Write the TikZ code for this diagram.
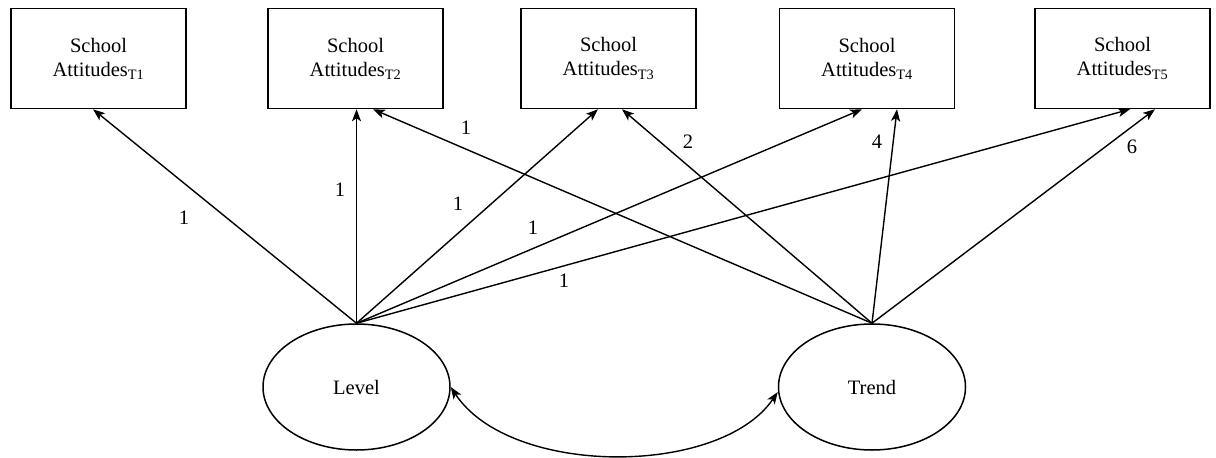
\documentclass[tikz,border=0pt]{standalone}
\usepackage{fontspec}
\setmainfont{Liberation Serif}
\usetikzlibrary{shapes.geometric,arrows.meta}
\begin{document}
\begin{tikzpicture}[x=1pt,y=-1pt,line width=1.4pt,every node/.style={font=\fontsize{20.5}{24}\selectfont,inner sep=1pt},
  box/.style={draw,line width=1.5pt,minimum width=175pt,minimum height=100pt,align=center},
  latent/.style={draw,ellipse,line width=1.5pt,minimum width=187pt,minimum height=126pt},
  loading/.style={-{Stealth[length=12pt,width=9pt,inset=3pt]}}]
\useasboundingbox (0,0) rectangle (1216,458);
\node[box] (sa1) at (98.5,58.5) {School\\Attitudes\textsubscript{T1}};
\node[box] (sa2) at (355.5,58.5) {School\\Attitudes\textsubscript{T2}};
\node[box] (sa3) at (608.5,58.5) {School\\Attitudes\textsubscript{T3}};
\node[box] (sa4) at (867,58.5) {School\\Attitudes\textsubscript{T4}};
\node[box] (sa5) at (1122.5,58.5) {School\\Attitudes\textsubscript{T5}};
\node[latent] (level) at (356.5,387) {Level};
\node[latent] (trend) at (872,387) {Trend};
\draw[loading] (level.north) -- ([xshift=-5.5pt]sa1.south);
\draw[loading] (level.north) -- ([xshift=1pt]sa2.south);
\draw[loading] (level.north) -- ([xshift=-10.5pt]sa3.south);
\draw[loading] (level.north) -- ([xshift=-5pt]sa4.south);
\draw[loading] (level.north) -- ([xshift=7.5pt]sa5.south);
\draw[loading] (trend.north) -- ([xshift=17.5pt]sa2.south);
\draw[loading] (trend.north) -- ([xshift=13.5pt]sa3.south);
\draw[loading] (trend.north) -- ([xshift=30pt]sa4.south);
\draw[loading] (trend.north) -- ([xshift=32.5pt]sa5.south);
\draw[{Stealth[length=12pt,width=9pt,inset=3pt]}-{Stealth[length=12pt,width=9pt,inset=3pt]}] (level.east) .. controls (510,477) and (720,477) .. ([yshift=-5pt]trend.west);
\node (l1) at (184,218) {1};
\node (l2) at (340,190) {1};
\node (l3) at (458,204) {1};
\node (l4) at (533,228) {1};
\node (l5) at (564,281) {1};
\node (t2) at (466,128) {1};
\node (t3) at (688,142) {2};
\node (t4) at (877,142) {4};
\node (t5) at (1132,147) {6};
\end{tikzpicture}
\end{document}
